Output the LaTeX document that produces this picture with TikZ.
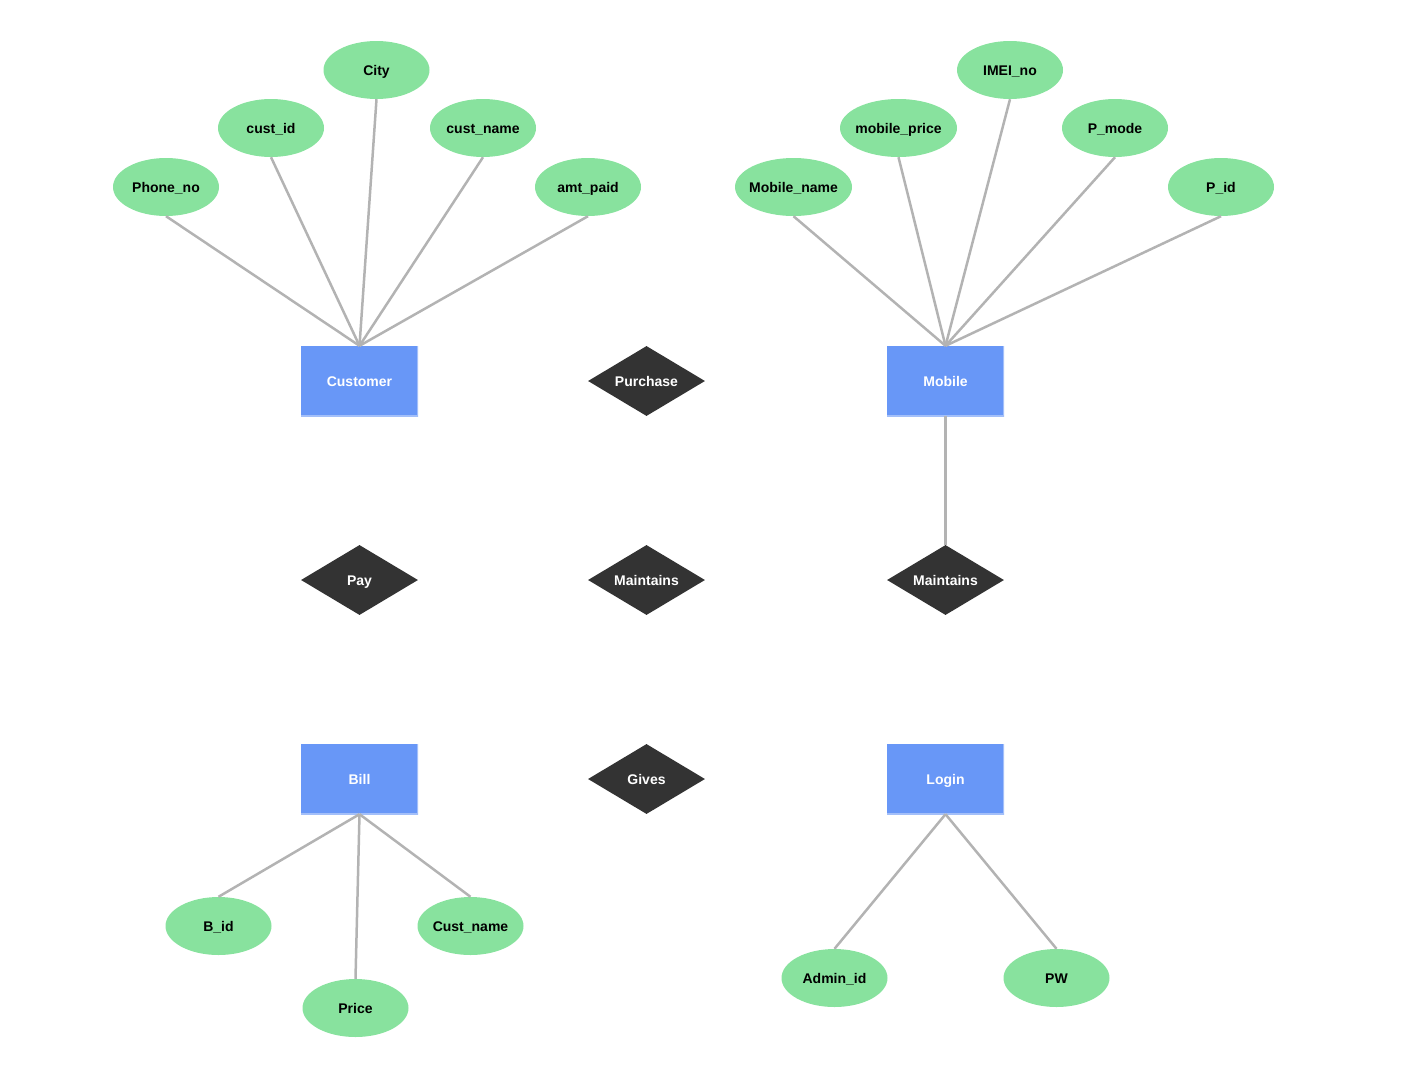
\documentclass[tikz,border=0pt]{standalone}
\usepackage{fontspec}
\setmainfont{Liberation Sans}
\usetikzlibrary{shapes.geometric}
\definecolor{attrgreen}{HTML}{88E29E}
\definecolor{entblue}{HTML}{6897F7}
\definecolor{entlight}{HTML}{A3BFF9}
\definecolor{reldark}{HTML}{333333}
\definecolor{linkgray}{HTML}{B3B3B3}
\newcommand{\zt}[1]{\makebox[0pt]{#1}}
\tikzset{
  lbl/.style={inner sep=0pt, text height=10pt, text depth=0pt, font=\fontsize{14pt}{16pt}\selectfont\bfseries},
  attr/.style={lbl, ellipse, fill=attrgreen, minimum width=106pt, minimum height=58pt, text=black},
  wideattr/.style={attr, minimum width=117pt},
  entity/.style={lbl, rectangle, fill=entblue, minimum width=117pt, minimum height=70pt, text=white,
    path picture={\draw[entlight, line width=2pt] (path picture bounding box.north east) -- (path picture bounding box.south east) -- (path picture bounding box.south west);}},
  relation/.style={lbl, diamond, fill=reldark, minimum width=117pt, minimum height=70pt, aspect=1.67, text=white},
  link/.style={draw=linkgray, line width=2.5pt}
}
\begin{document}
\begin{tikzpicture}[x=1pt, y=-1pt]
\useasboundingbox (0,0) rectangle (1408,1090);
% entities
\node[entity] (customer) at (359.5,381) {\zt{Customer}};
\node[entity] (mobile) at (945.5,381) {\zt{Mobile}};
\node[entity] (bill) at (359.5,779) {\zt{Bill}};
\node[entity] (login) at (945.5,779) {\zt{Login}};
% relations
\node[relation] (purchase) at (646.5,381) {\zt{Purchase}};
\node[relation] (pay) at (359.5,580) {\zt{Pay}};
\node[relation] (maint1) at (646.5,580) {\zt{Maintains}};
\node[relation] (maint2) at (945.5,580) {\zt{Maintains}};
\node[relation] (gives) at (646.5,779) {\zt{Gives}};
% customer attributes
\node[attr] (phone) at (166,187) {\zt{Phone\_no}};
\node[attr] (custid) at (271,128) {\zt{cust\_id}};
\node[attr] (city) at (376.5,70) {\zt{City}};
\node[attr] (custname) at (483,128) {\zt{cust\_name}};
\node[attr] (amtpaid) at (588,187) {\zt{amt\_paid}};
% mobile attributes
\node[wideattr] (mobname) at (793.5,187) {\zt{Mobile\_name}};
\node[wideattr] (mobprice) at (898.5,128) {\zt{mobile\_price}};
\node[attr] (imei) at (1010,70) {\zt{IMEI\_no}};
\node[attr] (pmode) at (1115,128) {\zt{P\_mode}};
\node[attr] (pid) at (1221,187) {\zt{P\_id}};
% bill attributes
\node[attr] (bid) at (218.5,926) {\zt{B\_id}};
\node[attr] (price) at (355.5,1008) {\zt{Price}};
\node[attr] (bcustname) at (470.5,926) {\zt{Cust\_name}};
% login attributes
\node[attr] (adminid) at (834.5,978) {\zt{Admin\_id}};
\node[attr] (pw) at (1056.5,978) {\zt{PW}};
% connectors
\foreach \a in {phone,custid,city,custname,amtpaid}
  \draw[link] (\a.south) -- (customer.north);
\foreach \a in {mobname,mobprice,imei,pmode,pid}
  \draw[link] (\a.south) -- (mobile.north);
\draw[link] (mobile.south) -- (maint2.north);
\foreach \a in {bid,price,bcustname}
  \draw[link] (bill.south) -- (\a.north);
\foreach \a in {adminid,pw}
  \draw[link] (login.south) -- (\a.north);
\end{tikzpicture}
\end{document}
